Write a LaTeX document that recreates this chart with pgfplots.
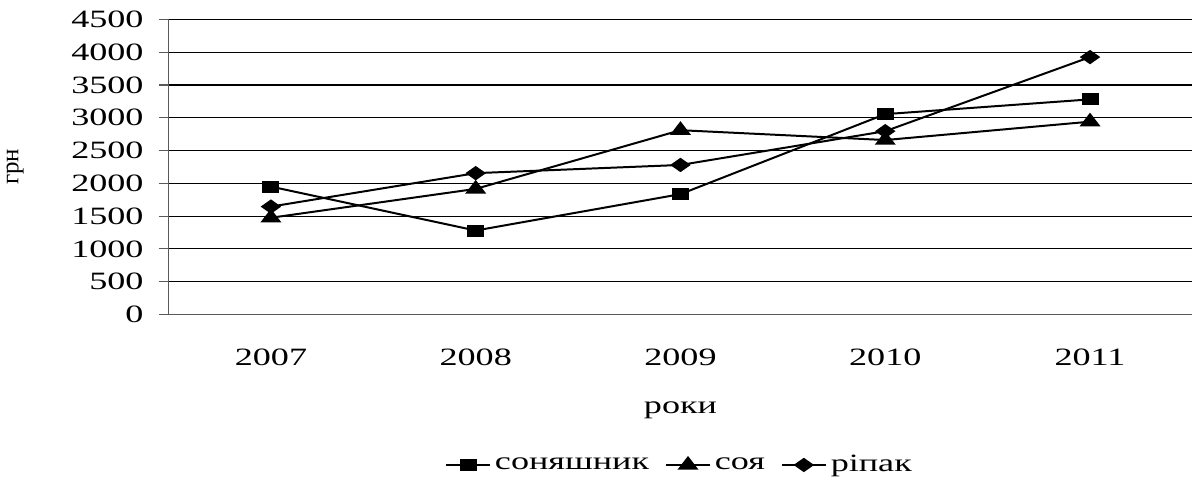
\documentclass[border=0pt]{standalone}
\usepackage{fontspec}
\setmainfont{Liberation Serif}[FakeStretch=1.45]
\newfontfamily\plainserif{Liberation Serif}
\usepackage{pgfplots}
\pgfplotsset{compat=1.18}

\begin{document}
\begin{tikzpicture}
  \begin{axis}[
    scale only axis,
    width=513.5pt,
    height=148pt,
    xmin=-0.5, xmax=4.5,
    ymin=0, ymax=4500,
    xtick={0,1,2,3,4},
    xticklabels={2007,2008,2009,2010,2011},
    minor xtick={-0.5,0.5,1.5,2.5,3.5,4.5},
    ytick={0,500,...,4500},
    /pgf/number format/1000 sep={},
    /pgf/number format/assume math mode=true,
    axis x line*=bottom,
    axis y line*=left,
    axis line style={gray!70!black, line width=0.6pt},
    tick align=outside,
    xtick style={draw=none},
    minor x tick style={gray!70!black, line width=0.6pt},
    minor tick length=4pt,
    ytick style={gray!70!black, line width=0.6pt},
    major tick length=5pt,
    ymajorgrids=true,
    grid style={black, line width=0.6pt},
    tick label style={font=\fontsize{12.5}{14}\selectfont},
    xticklabel style={yshift=-8.5pt},
    yticklabel style={xshift=-4pt, inner ysep=5.5pt},
    xlabel={роки},
    xlabel style={font=\fontsize{12.5}{14}\selectfont, yshift=-11.5pt},
    ylabel={грн},
    ylabel style={font=\plainserif\fontsize{12.5}{14}\selectfont, yshift=17pt},
    legend columns=3,
    legend style={at={(0.5,-0.51)}, anchor=center, draw=none,
      font=\fontsize{12.5}{14}\selectfont,
      /tikz/every even column/.append style={column sep=6pt}},
    legend image code/.code={
      \draw[#1, mark repeat=2, mark phase=2]
        plot coordinates {(0pt,0pt) (11pt,0pt) (22pt,0pt)};
    },
    legend cell align=left,
    every axis plot/.append style={black, line width=1pt},
  ]

% соняшник
\addplot[mark=square*, mark size=2.5pt, mark options={xscale=1.5}] coordinates {
(0,1950) (1,1280) (2,1835) (3,3055) (4,3280)
};
\addlegendentry{соняшник}

% соя
\addplot[mark=triangle*, mark size=3.7pt, mark options={xscale=1.33}] coordinates {
(0,1475) (1,1915) (2,2810) (3,2660) (4,2940)
};
\addlegendentry{соя}

% ріпак
\addplot[mark=diamond*, mark size=3pt, mark options={xscale=1.9}] coordinates {
(0,1645) (1,2155) (2,2280) (3,2795) (4,3925)
};
\addlegendentry{ріпак}

  \end{axis}
\end{tikzpicture}
\end{document}
